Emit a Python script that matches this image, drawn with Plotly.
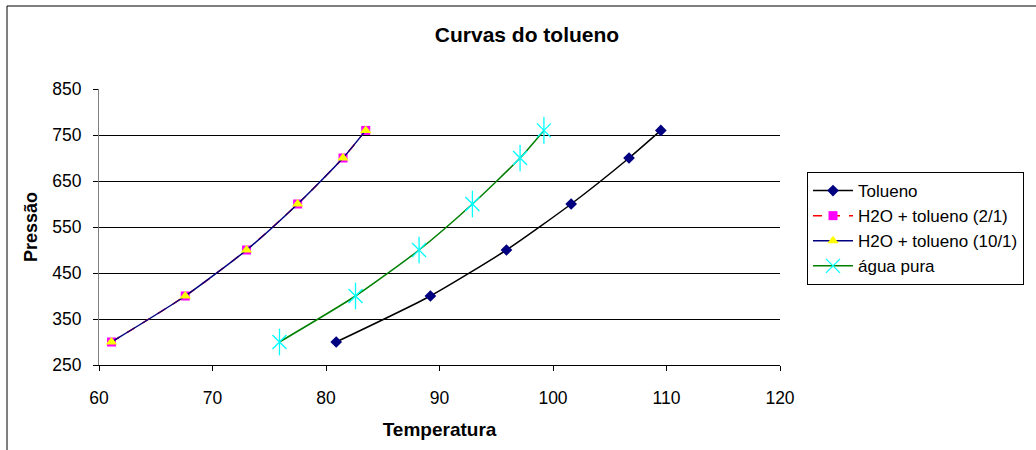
import plotly.graph_objects as go

pressao = [300, 400, 500, 600, 700, 760]
temp_tolueno = [80.9, 89.2, 95.9, 101.6, 106.7, 109.5]
temp_h2o_2_1 = [61.1, 67.6, 73.0, 77.5, 81.5, 83.5]
temp_h2o_10_1 = [61.1, 67.6, 73.0, 77.5, 81.5, 83.5]
temp_agua = [75.9, 82.6, 88.2, 92.9, 97.1, 99.2]

x_ticks = [60, 70, 80, 90, 100, 110, 120]
y_ticks = [250, 350, 450, 550, 650, 750, 850]

FONT = "Liberation Sans, Arial, sans-serif"

fig = go.Figure()
fig.add_trace(go.Scatter(
    x=temp_tolueno, y=pressao, name="Tolueno", mode="lines+markers",
    line=dict(color="black", width=1.5, shape="spline", smoothing=0.6),
    marker=dict(symbol="diamond", size=9, color="#000080")))
fig.add_trace(go.Scatter(
    x=temp_h2o_2_1, y=pressao, name="H2O + tolueno (2/1)", mode="lines+markers",
    line=dict(color="red", width=1.5, dash="dash", shape="spline", smoothing=0.6),
    marker=dict(symbol="square", size=9, color="#FF00FF")))
fig.add_trace(go.Scatter(
    x=temp_h2o_10_1, y=pressao, name="H2O + tolueno (10/1)", mode="lines+markers",
    line=dict(color="#000080", width=1.5, shape="spline", smoothing=0.6),
    marker=dict(symbol="triangle-up", size=10, color="#FFFF00")))
fig.add_trace(go.Scatter(
    x=temp_agua, y=pressao, name="água pura", mode="lines+markers",
    line=dict(color="#008000", width=1.5, shape="spline", smoothing=0.6),
    marker=dict(symbol="x-thin-open", size=14, color="#00FFFF",
                line=dict(color="#00FFFF", width=1.3))))
fig.add_trace(go.Scatter(
    x=temp_agua, y=pressao, name="água pura", mode="markers", showlegend=False,
    marker=dict(symbol="line-ns-open", size=19, color="#00FFFF",
                line=dict(color="#00FFFF", width=1.3))))

fig.update_layout(
    width=1036, height=450,
    margin=dict(l=99, r=256, t=89, b=85),
    paper_bgcolor="white", plot_bgcolor="white",
    font=dict(family=FONT, size=17.5, color="black"),
    title=dict(text="<b>Curvas do tolueno</b>", x=527 / 1036, xanchor="center",
               y=1 - 35 / 450, yanchor="middle", font=dict(size=21)),
    xaxis=dict(range=[60, 120], tickvals=x_ticks, showgrid=False,
               showline=True, linecolor="black", linewidth=1,
               ticks="outside", ticklen=5, tickcolor="black", ticklabelstandoff=12,
               title=dict(text="<b>Temperatura</b>", standoff=15, font=dict(size=19)),
               zeroline=False),
    yaxis=dict(range=[250, 850], tickvals=y_ticks, showgrid=True, gridcolor="black",
               gridwidth=1, showline=True, linecolor="#808080", linewidth=1,
               ticks="outside", ticklen=5, tickcolor="black", ticklabelstandoff=8,
               title=dict(text="<b>Pressão</b>", standoff=9, font=dict(size=18)),
               zeroline=False),
    legend=dict(x=(807 - 99) / 681, y=1 - (172 - 89) / 276, xanchor="left", yanchor="top",
                bordercolor="black", borderwidth=1, bgcolor="white",
                font=dict(size=17), tracegroupgap=0, itemwidth=40),
    shapes=[dict(type="rect", xref="paper", yref="paper",
                 x0=(7 - 99) / 681, x1=(1045 - 99) / 681,
                 y0=-(460 - 365) / 276, y1=1 + (89 - 6) / 276,
                 line=dict(color="black", width=1), layer="below")],
    showlegend=True,
)

fig.write_html("out.html")
